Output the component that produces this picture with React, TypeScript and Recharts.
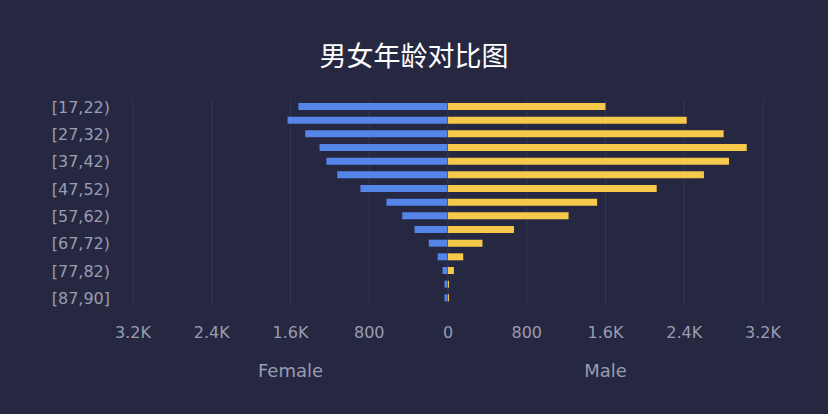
import { BarChart, Bar, XAxis, YAxis, CartesianGrid } from "recharts"

const ages = [
  "[17,22)", "[22,27)", "[27,32)", "[32,37)", "[37,42)",
  "[42,47)", "[47,52)", "[52,57)", "[57,62)", "[62,67)",
  "[67,72)", "[72,77)", "[77,82)", "[82,87)", "[87,90]"
]
const female = [1520, 1630, 1450, 1305, 1235, 1125, 890, 625, 465, 340, 195, 105, 55, 35, 35]
const male = [1600, 2425, 2800, 3035, 2855, 2600, 2120, 1515, 1225, 670, 350, 155, 60, 10, 10]
const leftTicks = [800, 1600, 2400, 3200]
const rightTicks = [0, 800, 1600, 2400, 3200]

const BG = "#252840"
const TEXT = "#9a9cb2"
const GRID = "#33364f"
const font = "'DejaVu Sans', sans-serif"

const data = ages.map((age, i) => ({ age, female: female[i], male: male[i] }))

const fmt = (v: number) => (v >= 1000 ? `${v / 1000}K` : `${v}`)

const tickStyle = { fill: TEXT, fontSize: 16, fontFamily: font }

export default function App() {
  return (
    <div
      style={{
        position: "fixed",
        left: 0,
        top: 0,
        width: 828,
        height: 414,
        background: BG,
        overflow: "hidden"
      }}
    >
      <div
        style={{
          position: "absolute",
          left: 0,
          top: 38,
          width: 828,
          height: 34,
          lineHeight: "34px",
          textAlign: "center",
          color: "#ffffff",
          fontSize: 27,
          fontFamily: "'Noto Sans CJK SC', sans-serif"
        }}
      >
        男女年龄对比图
      </div>

      {/* 左側: Female(軸は反転) */}
      <div style={{ position: "absolute", left: 0, top: 0 }}>
        <BarChart
          width={448}
          height={414}
          data={data}
          layout="vertical"
          margin={{ top: 100, right: 0, bottom: 35, left: 0 }}
          barSize={7}
        >
          <CartesianGrid horizontal={false} stroke={GRID} />
          <XAxis
            type="number"
            domain={[0, 3200]}
            ticks={leftTicks}
            interval={0}
            reversed
            tickFormatter={fmt}
            tick={tickStyle}
            tickSize={0}
            tickMargin={22}
            axisLine={false}
            tickLine={false}
            height={74}
            label={{ value: "Female", position: "insideBottom", offset: 2, fill: TEXT, fontSize: 18, fontFamily: font }}
          />
          <YAxis
            type="category"
            dataKey="age"
            width={133}
            interval={1}
            tick={tickStyle}
            tickSize={0}
            tickMargin={23}
            axisLine={false}
            tickLine={false}
          />
          <Bar dataKey="female" fill="#5585e8" isAnimationActive={false} />
        </BarChart>
      </div>

      {/* 右側: Male — "0" が切れないよう左に余白 */}
      <div style={{ position: "absolute", left: 428, top: 0 }}>
        <BarChart
          width={400}
          height={414}
          data={data}
          layout="vertical"
          margin={{ top: 100, right: 65, bottom: 35, left: 20 }}
          barSize={7}
        >
          <CartesianGrid horizontal={false} stroke={GRID} />
          <XAxis
            type="number"
            domain={[0, 3200]}
            ticks={rightTicks}
            interval={0}
            tickFormatter={fmt}
            tick={tickStyle}
            tickSize={0}
            tickMargin={22}
            axisLine={false}
            tickLine={false}
            height={74}
            label={{ value: "Male", position: "insideBottom", offset: 2, fill: TEXT, fontSize: 18, fontFamily: font }}
          />
          <YAxis type="category" dataKey="age" hide />
          <Bar dataKey="male" fill="#f6c94a" isAnimationActive={false} />
        </BarChart>
      </div>
    </div>
  )
}
